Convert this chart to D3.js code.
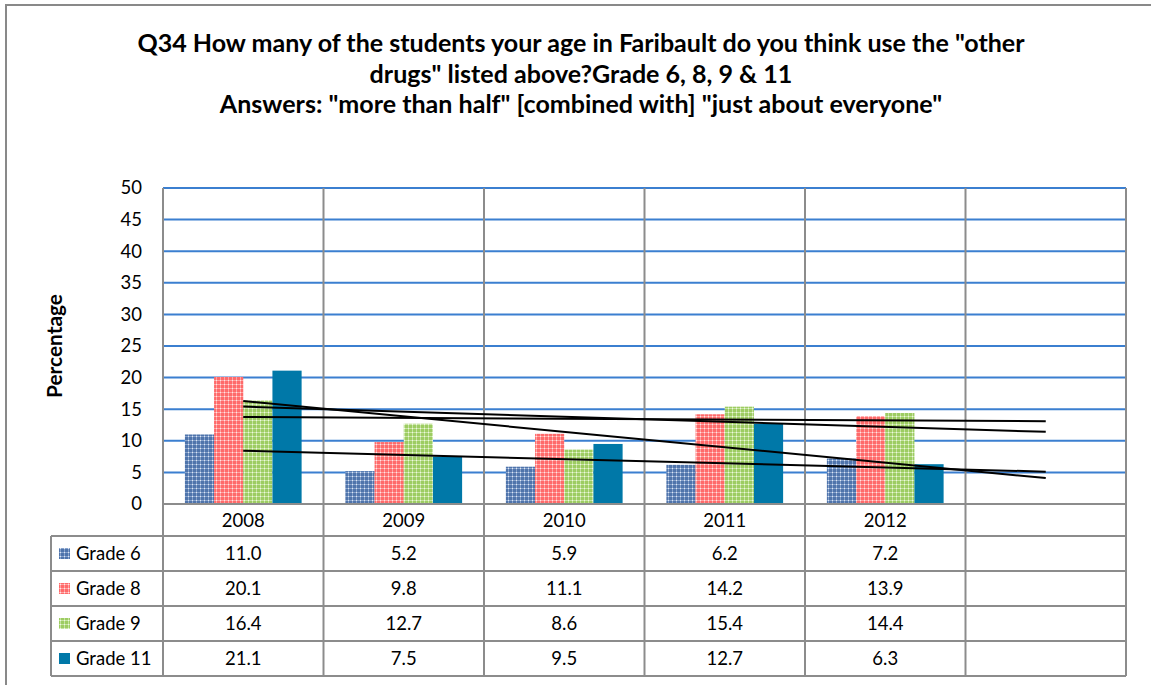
<!DOCTYPE html>
<html><head><meta charset="utf-8">
<script src="https://cdn.jsdelivr.net/npm/d3@7"></script>
<style>body{margin:0;background:#fff}svg{display:block}text{font-family:Lato,"Open Sans",sans-serif}</style>
</head><body><svg id="c" width="1151" height="685"></svg>
<script>
const categories = ["2008","2009","2010","2011","2012",""];
const seriesNames = ["Grade 6","Grade 8","Grade 9","Grade 11"];
const grade6 = [11.0,5.2,5.9,6.2,7.2];
const grade8 = [20.1,9.8,11.1,14.2,13.9];
const grade9 = [16.4,12.7,8.6,15.4,14.4];
const grade11 = [21.1,7.5,9.5,12.7,6.3];
const yTicks = [0,5,10,15,20,25,30,35,40,45,50];
const titleLines = ['Q34 How many of the students your age in Faribault do you think use the "other',
  'drugs" listed above?Grade 6, 8, 9 & 11',
  'Answers: "more than half" [combined with] "just about everyone"'];
const yTitle = "Percentage";

const seriesValues = [grade6, grade8, grade9, grade11];
const seriesFill = [
  {base:"#4f74ab", line:"#86a2cc", dot:"#dfe7f3"},
  {base:"#ff6a6a", line:"#ffa3a3", dot:"#ffe6e6"},
  {base:"#9dcc62", line:"#c6e4a0", dot:"#eef7e3"},
  null
];
const solidColor = "#0078a8";
const FS = 18.5;

const svg = d3.select("#c");
const L = 163, R = 1126, T = 188, B = 504;
const catKeys = categories.map((c,i)=>"k"+i);

// patterns
const defs = svg.append("defs");
seriesFill.forEach((f,i)=>{
  if(!f) return;
  const p = defs.append("pattern").attr("id","pat"+i).attr("patternUnits","userSpaceOnUse")
    .attr("width",4).attr("height",4);
  p.append("rect").attr("width",4).attr("height",4).attr("fill",f.base);
  p.append("rect").attr("x",0).attr("y",0).attr("width",4).attr("height",1).attr("fill",f.line);
  p.append("rect").attr("x",0).attr("y",0).attr("width",1).attr("height",4).attr("fill",f.line);
  p.append("rect").attr("x",0).attr("y",0).attr("width",1).attr("height",1).attr("fill",f.dot);
});
const fillOf = i => seriesFill[i] ? `url(#pat${i})` : solidColor;

// outer border
svg.append("rect").attr("x",6).attr("y",5).attr("width",1200).attr("height",800)
  .attr("fill","none").attr("stroke","#898989").attr("stroke-width",2);

// fit helper
function fitWidth(sel, target){
  const w = sel.node().getComputedTextLength();
  const fs = parseFloat(sel.attr("font-size"));
  const nf = fs*target/w;
  sel.attr("font-size", nf);
  return nf;
}

// title
const titleY = [52, 83, 113];
const t0 = svg.append("text").attr("x",581).attr("y",titleY[0]).attr("text-anchor","middle")
  .attr("font-weight","bold").attr("font-size",20).text(titleLines[0]);
const titleFs = fitWidth(t0, 888);
titleLines.slice(1).forEach((s,i)=>{
  svg.append("text").attr("x",581).attr("y",titleY[i+1]).attr("text-anchor","middle")
    .attr("font-weight","bold").attr("font-size",titleFs).text(s);
});

// scales
const x0 = d3.scaleBand().domain(catKeys).range([L,R]).padding(0);
const bw = x0.bandwidth();
const barW = bw/5.5;
const x1 = d3.scaleBand().domain(seriesNames).range([0.75*barW, bw-0.75*barW]).padding(0);
const y = d3.scaleLinear().domain([0,50]).range([B,T]);

// horizontal gridlines
svg.append("g").selectAll("line").data(yTicks.filter(v=>v>0)).join("line")
  .attr("x1",L).attr("x2",R).attr("y1",d=>y(d)).attr("y2",d=>y(d))
  .attr("stroke","#3b7fd0").attr("stroke-width",2);

// vertical gridlines (plot + header row)
const vx = catKeys.map(k=>x0(k)).concat([R]);
svg.append("g").selectAll("line").data(vx).join("line")
  .attr("x1",d=>d).attr("x2",d=>d).attr("y1",T).attr("y2",536)
  .attr("stroke","#8c8c8c").attr("stroke-width",2);

// y axis labels
const yAxis = d3.axisLeft(y).tickValues(yTicks).tickSize(0).tickPadding(21);
const ga = svg.append("g").attr("transform",`translate(${L},0)`).call(yAxis);
ga.select(".domain").remove();
ga.selectAll("text").attr("font-size",FS).attr("fill","#000").attr("font-family","Lato,'Open Sans',sans-serif");

const yt = svg.append("text").attr("transform","translate(62,346) rotate(-90)").attr("text-anchor","middle")
  .attr("font-weight","bold").attr("font-size",15).text(yTitle);
fitWidth(yt, 104);

// bars
seriesValues.forEach((vals,si)=>{
  svg.append("g").selectAll("rect").data(vals).join("rect")
    .attr("x",(d,i)=>x0(catKeys[i]) + x1(seriesNames[si]))
    .attr("width",x1.bandwidth())
    .attr("y",d=>y(d)).attr("height",d=>B-y(d))
    .attr("fill",fillOf(si));
});

// trendlines (linear least squares, forecast forward 1 period)
seriesValues.forEach(vals=>{
  const n = vals.length;
  const xs = vals.map((v,i)=>i+1);
  const mx = d3.mean(xs), my = d3.mean(vals);
  const slope = d3.sum(xs.map((xv,i)=>(xv-mx)*(vals[i]-my))) / d3.sum(xs.map(xv=>(xv-mx)**2));
  const icpt = my - slope*mx;
  const xa = 1, xb = n+1;
  const px = k => x0(catKeys[k-1]) + bw/2;
  svg.append("line").attr("x1",px(xa)).attr("y1",y(icpt+slope*xa))
    .attr("x2",px(xb)).attr("y2",y(icpt+slope*xb))
    .attr("stroke","#000").attr("stroke-width",2);
});

// axis line at 0
svg.append("line").attr("x1",L).attr("x2",R).attr("y1",B).attr("y2",B)
  .attr("stroke","#8c8c8c").attr("stroke-width",2);

// data table
const rowTops = [536,571,606,641,676];
const tableLeft = 51;
const tg = svg.append("g");
tg.selectAll("text.cat").data(categories).join("text").attr("class","cat")
  .attr("x",(d,i)=>x0(catKeys[i])+bw/2).attr("y",527).attr("text-anchor","middle")
  .attr("font-size",FS).text(d=>d);
tg.selectAll("line.h").data(rowTops).join("line").attr("class","h")
  .attr("x1",tableLeft).attr("x2",R).attr("y1",d=>d).attr("y2",d=>d)
  .attr("stroke","#8c8c8c").attr("stroke-width",2);
tg.selectAll("line.v").data([tableLeft].concat(vx)).join("line").attr("class","v")
  .attr("x1",d=>d).attr("x2",d=>d).attr("y1",rowTops[0]).attr("y2",rowTops[rowTops.length-1])
  .attr("stroke","#8c8c8c").attr("stroke-width",2);
seriesNames.forEach((name,si)=>{
  const cy = (rowTops[si]+rowTops[si+1])/2;
  tg.append("rect").attr("x",59).attr("y",cy-5.5).attr("width",11).attr("height",11).attr("fill",fillOf(si));
  tg.append("text").attr("x",76).attr("y",cy+6.5).attr("font-size",FS).text(name);
  tg.selectAll(null).data(seriesValues[si]).join("text")
    .attr("x",(d,i)=>x0(catKeys[i])+bw/2).attr("y",cy+6.5).attr("text-anchor","middle")
    .attr("font-size",FS).text(d=>d.toFixed(1));
});
</script></body></html>
